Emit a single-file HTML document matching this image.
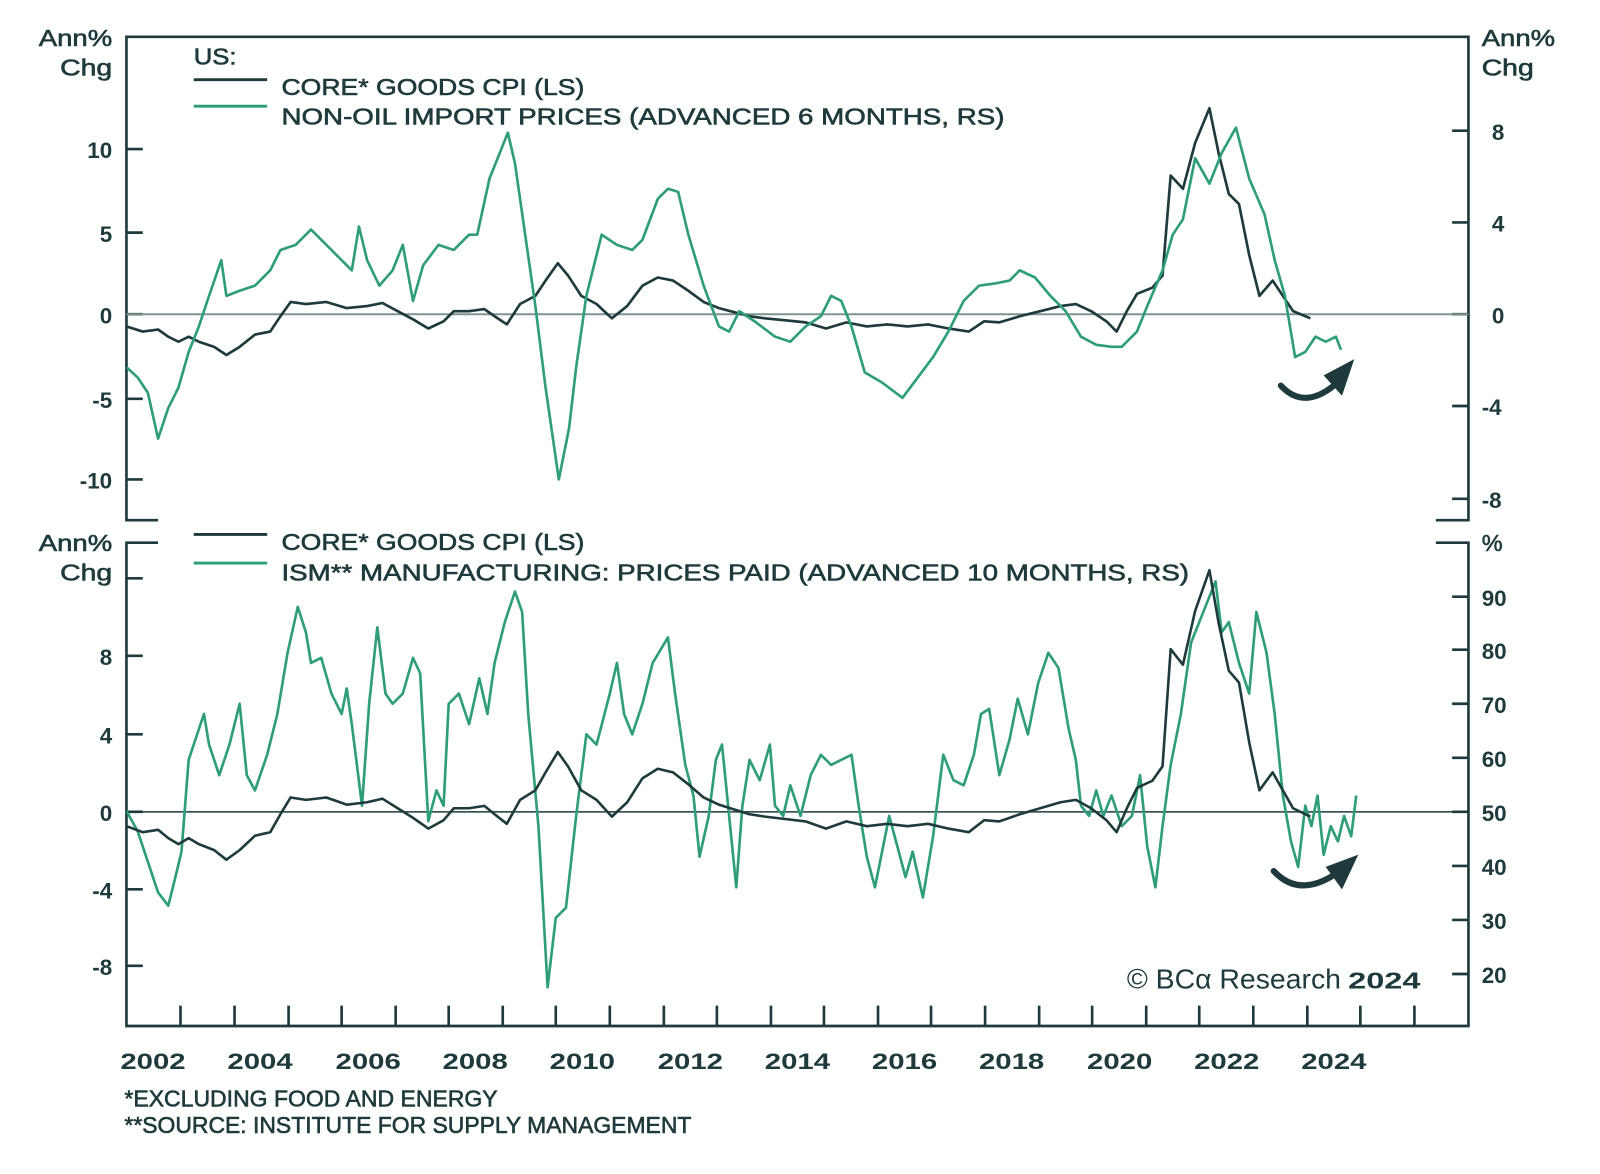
<!DOCTYPE html>
<html><head><meta charset="utf-8"><style>
html,body{margin:0;padding:0;background:#fff;}
svg{display:block;}
text{font-family:"Liberation Sans",sans-serif;fill:#1f3a3c;}
.t{font-size:23px;stroke:#1f3a3c;stroke-width:0.6;}
.b{font-size:22px;font-weight:bold;}
</style></head><body>
<svg width="1600" height="1174" viewBox="0 0 1569 1151" xmlns="http://www.w3.org/2000/svg">
<defs>
<clipPath id="top"><rect x="124" y="36" width="1316" height="474"/></clipPath>
<clipPath id="bot"><rect x="124" y="532" width="1316" height="474"/></clipPath>
</defs>
<g stroke="#1f3a3c" stroke-width="2.6" fill="none">
<polyline points="155,510 124,510 124,36 1440,36 1440,510 1408,510"/>
<polyline points="155,532 124,532 124,1006 1440,1006 1440,532 1408,532"/>
<path d="M124,146h16M124,228h16M124,308h16M124,391h16M124,470h16"/>
<path d="M1440,128h-16M1440,218h-16M1440,308h-16M1440,398h-16M1440,489h-16"/>
<path d="M124,567h16M124,643h16M124,720h16M124,796h16M124,872h16M124,947h16"/>
<path d="M1440,585h-16M1440,637h-16M1440,690h-16M1440,743h-16M1440,796h-16M1440,849h-16M1440,902h-16M1440,955h-16"/>
<path d="M177,1006v-20M230,1006v-20M283,1006v-20M335,1006v-20M388,1006v-20M440,1006v-20M493,1006v-20M545,1006v-20M598,1006v-20M651,1006v-20M703,1006v-20M756,1006v-20M808,1006v-20M861,1006v-20M913,1006v-20M966,1006v-20M1019,1006v-20M1071,1006v-20M1124,1006v-20M1176,1006v-20M1229,1006v-20M1282,1006v-20M1334,1006v-20M1387,1006v-20"/>
</g>
<line x1="124" y1="308" x2="1440" y2="308" stroke="#7f9393" stroke-width="2"/>
<line x1="124" y1="796" x2="1440" y2="796" stroke="#1f3a3c" stroke-width="1.5"/>

<line x1="190" y1="78" x2="262" y2="78" stroke="#1f3a3c" stroke-width="2.8"/>
<line x1="190" y1="104" x2="262" y2="104" stroke="#2f9e78" stroke-width="2.8"/>
<text class="t" x="190" y="63" textLength="42" lengthAdjust="spacingAndGlyphs">US:</text>
<text class="t" x="276" y="93" textLength="297" lengthAdjust="spacingAndGlyphs">CORE* GOODS CPI (LS)</text>
<text class="t" x="276" y="122" textLength="709" lengthAdjust="spacingAndGlyphs">NON-OIL IMPORT PRICES (ADVANCED 6 MONTHS, RS)</text>
<line x1="190" y1="524" x2="262" y2="524" stroke="#1f3a3c" stroke-width="2.8"/>
<line x1="190" y1="552" x2="262" y2="552" stroke="#2f9e78" stroke-width="2.8"/>
<text class="t" x="276" y="539" textLength="297" lengthAdjust="spacingAndGlyphs">CORE* GOODS CPI (LS)</text>
<text class="t" x="276" y="569" textLength="890" lengthAdjust="spacingAndGlyphs">ISM** MANUFACTURING: PRICES PAID  (ADVANCED 10 MONTHS, RS)</text>

<text class="t" x="38" y="45" textLength="72" lengthAdjust="spacingAndGlyphs">Ann%</text>
<text class="t" x="59" y="74" textLength="51" lengthAdjust="spacingAndGlyphs">Chg</text>
<text class="t" x="1453" y="45" textLength="72" lengthAdjust="spacingAndGlyphs">Ann%</text>
<text class="t" x="1453" y="74" textLength="51" lengthAdjust="spacingAndGlyphs">Chg</text>
<text class="t" x="38" y="540" textLength="72" lengthAdjust="spacingAndGlyphs">Ann%</text>
<text class="t" x="59" y="569" textLength="51" lengthAdjust="spacingAndGlyphs">Chg</text>
<text class="t" x="1453" y="540">%</text>

<g class="b" text-anchor="end">
<text x="110" y="155">10</text><text x="110" y="237">5</text><text x="110" y="317">0</text><text x="110" y="400">-5</text><text x="110" y="479">-10</text>
<text x="110" y="652">8</text><text x="110" y="729">4</text><text x="110" y="805">0</text><text x="110" y="881">-4</text><text x="110" y="956">-8</text>
</g>
<g class="b">
<text x="1463" y="137">8</text><text x="1463" y="227">4</text><text x="1463" y="317">0</text><text x="1453" y="407">-4</text><text x="1453" y="498">-8</text>
<text x="1453" y="594">90</text><text x="1453" y="646">80</text><text x="1453" y="699">70</text><text x="1453" y="752">60</text><text x="1453" y="805">50</text><text x="1453" y="858">40</text><text x="1453" y="911">30</text><text x="1453" y="964">20</text>
</g>
<g class="b">
<text x="118" y="1048" textLength="64" lengthAdjust="spacingAndGlyphs">2002</text>
<text x="223" y="1048" textLength="64" lengthAdjust="spacingAndGlyphs">2004</text>
<text x="329" y="1048" textLength="64" lengthAdjust="spacingAndGlyphs">2006</text>
<text x="434" y="1048" textLength="64" lengthAdjust="spacingAndGlyphs">2008</text>
<text x="539" y="1048" textLength="64" lengthAdjust="spacingAndGlyphs">2010</text>
<text x="645" y="1048" textLength="64" lengthAdjust="spacingAndGlyphs">2012</text>
<text x="750" y="1048" textLength="64" lengthAdjust="spacingAndGlyphs">2014</text>
<text x="855" y="1048" textLength="64" lengthAdjust="spacingAndGlyphs">2016</text>
<text x="960" y="1048" textLength="64" lengthAdjust="spacingAndGlyphs">2018</text>
<text x="1066" y="1048" textLength="64" lengthAdjust="spacingAndGlyphs">2020</text>
<text x="1171" y="1048" textLength="64" lengthAdjust="spacingAndGlyphs">2022</text>
<text x="1276" y="1048" textLength="64" lengthAdjust="spacingAndGlyphs">2024</text>
</g>
<text class="t" x="122" y="1085" font-size="20" textLength="366" lengthAdjust="spacingAndGlyphs">*EXCLUDING FOOD AND ENERGY</text>
<text class="t" x="122" y="1111" font-size="20" textLength="556" lengthAdjust="spacingAndGlyphs">**SOURCE: INSTITUTE FOR SUPPLY MANAGEMENT</text>
<text x="1105" y="969" font-family="Liberation Serif,serif" font-size="27" textLength="210" lengthAdjust="spacingAndGlyphs">© BCα Research</text>
<text x="1322" y="969" font-weight="bold" font-size="23" textLength="71" lengthAdjust="spacingAndGlyphs">2024</text>

<g clip-path="url(#top)" fill="none" stroke-width="2.6" stroke-linejoin="round">
<polyline stroke="#1f3a3c" points="124,320 140,325 155,323 165,330 175,335 185,330 195,335 210,340 222,348 235,340 250,328 265,325 275,310 285,296 300,298 320,296 340,302 360,300 375,297 390,305 405,313 420,322 435,315 445,305 460,305 475,303 485,310 497,318 510,298 525,290 535,275 547,258 557,270 570,290 585,298 600,312 615,300 630,280 645,272 660,275 675,285 690,296 705,302 720,306 735,310 750,312 770,314 790,316 810,322 830,316 850,320 870,318 890,320 910,318 930,322 950,325 965,315 980,316 1000,310 1020,305 1040,300 1055,298 1070,305 1085,315 1095,325 1105,305 1115,288 1130,282 1140,270 1148,172 1160,185 1172,140 1186,106 1195,150 1205,190 1215,200 1225,250 1235,290 1248,275 1258,290 1268,305 1285,312"/>
<polyline stroke="#2f9e78" points="124,360 135,370 145,385 155,430 165,400 175,380 185,345 195,320 205,290 217,255 222,290 235,285 250,280 265,265 275,245 290,240 305,225 320,240 335,255 345,265 352,222 360,255 372,280 385,265 395,240 405,295 415,260 430,240 445,245 460,230 468,230 480,175 490,150 498,130 505,160 515,230 525,300 535,380 548,470 558,420 565,360 575,290 590,230 605,240 620,245 630,235 645,195 655,185 665,188 675,230 690,280 705,320 715,325 725,305 740,315 760,330 775,335 790,320 805,310 815,290 825,295 835,320 848,365 865,375 885,390 900,370 915,350 930,325 945,295 960,280 975,278 990,275 1000,265 1015,272 1030,290 1045,305 1060,330 1075,338 1090,340 1100,340 1115,325 1125,300 1140,265 1150,230 1160,215 1172,155 1186,180 1198,150 1212,125 1225,175 1240,210 1250,255 1260,290 1270,350 1280,345 1290,330 1300,335 1310,330 1315,343"/>
</g>
<g clip-path="url(#bot)" fill="none" stroke-width="2.6" stroke-linejoin="round">
<polyline stroke="#2f9e78" points="124,795 135,815 145,845 155,875 165,888 172,860 178,835 185,745 195,715 200,700 205,730 215,760 225,730 235,690 242,760 250,775 262,740 272,700 282,640 292,595 300,620 305,650 315,645 325,680 335,700 340,675 345,710 355,790 362,690 370,615 378,680 385,690 395,680 405,645 412,660 420,805 428,775 435,790 440,690 450,680 460,710 470,665 478,700 485,650 495,610 505,580 512,600 518,700 528,810 537,968 545,900 555,890 565,800 575,720 585,730 598,680 605,650 612,700 620,720 630,690 640,650 655,625 662,680 672,750 680,780 686,840 695,800 702,745 708,730 715,800 722,870 728,790 735,745 745,765 755,730 760,790 768,800 775,770 785,800 795,760 805,740 815,750 825,745 835,740 842,790 850,840 858,870 865,835 872,800 880,830 888,860 895,835 905,880 915,820 925,740 935,765 945,770 955,740 962,700 970,695 980,760 990,725 998,685 1008,720 1018,670 1028,640 1038,655 1048,715 1055,745 1060,790 1068,800 1075,775 1082,800 1090,780 1100,810 1110,800 1118,760 1125,830 1133,870 1140,810 1148,750 1158,700 1168,630 1176,610 1186,585 1192,570 1198,620 1205,610 1215,650 1225,680 1232,600 1242,640 1250,700 1258,780 1266,825 1273,850 1280,790 1286,810 1292,780 1298,838 1305,810 1312,825 1318,800 1325,820 1330,780"/>
<polyline transform="translate(0,434.7) scale(1,1.173)" stroke="#1f3a3c" stroke-width="2.6" vector-effect="non-scaling-stroke" points="124,320 140,325 155,323 165,330 175,335 185,330 195,335 210,340 222,348 235,340 250,328 265,325 275,310 285,296 300,298 320,296 340,302 360,300 375,297 390,305 405,313 420,322 435,315 445,305 460,305 475,303 485,310 497,318 510,298 525,290 535,275 547,258 557,270 570,290 585,298 600,312 615,300 630,280 645,272 660,275 675,285 690,296 705,302 720,306 735,310 750,312 770,314 790,316 810,322 830,316 850,320 870,318 890,320 910,318 930,322 950,325 965,315 980,316 1000,310 1020,305 1040,300 1055,298 1070,305 1085,315 1095,325 1105,305 1115,288 1130,282 1140,270 1148,172 1160,185 1172,140 1186,106 1195,150 1205,190 1215,200 1225,250 1235,290 1248,275 1258,290 1268,305 1285,312"/>
</g>

<g fill="none" stroke="#1f3a3c" stroke-width="6" stroke-linecap="round">
<path d="M1256,378 Q1278,402 1308,378"/>
<path d="M1249,854 Q1273,880 1308,858"/>
</g>
<polygon points="1328,352 1298,368 1316,388" fill="#1f3a3c"/>
<polygon points="1332,838 1300,850 1316,872" fill="#1f3a3c"/>
</svg>
</body></html>
